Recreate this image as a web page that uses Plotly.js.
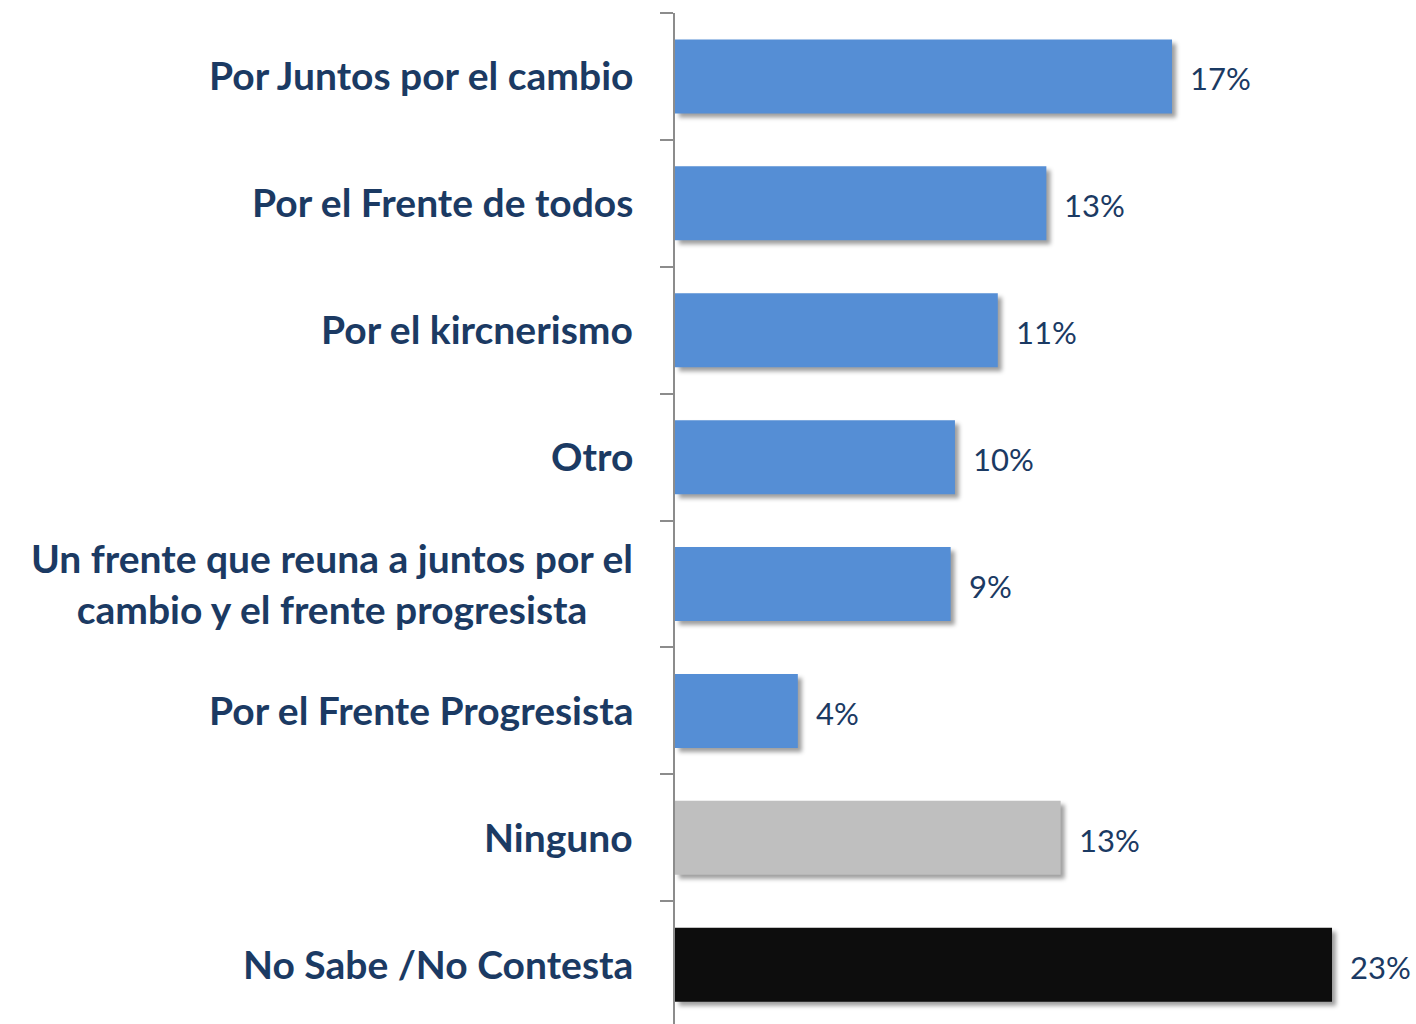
<!DOCTYPE html>
<html>
<head>
<meta charset="utf-8">
<script src="https://cdn.plot.ly/plotly-3.0.1.min.js"></script>
<style>
  html, body { margin: 0; padding: 0; background: #fff; }
  #chart { width: 1416px; height: 1024px; }
  /* soft drop shadow under the bars, like the office chart */
  #chart .bars .point path { filter: drop-shadow(4px 4px 2px rgba(0, 0, 0, 0.38)); }
</style>
</head>
<body>
<div id="chart"></div>
<script>
// categories, top to bottom
let categories = [
    'Por Juntos por el cambio',
    'Por el Frente de todos',
    'Por el kircnerismo',
    'Otro',
    'Un frente que reuna a juntos por el<br>cambio y el frente progresista',
    'Por el Frente Progresista',
    'Ninguno',
    'No Sabe /No Contesta'
];
let values = [17.4, 13.0, 11.3, 9.8, 9.65, 4.3, 13.5, 23.0];
let valueLabels = ['17%', '13%', '11%', '10%', '9%', '4%', '13%', '23%'];
let barColors = ['#558ED5', '#558ED5', '#558ED5', '#558ED5', '#558ED5', '#558ED5', '#BFBFBF', '#0D0D0D'];

let textColor = '#1B3A63';

let trace = {
    type: 'bar',
    orientation: 'h',
    x: values,
    y: categories,
    marker: { color: barColors, line: { width: 0 } },
    hoverinfo: 'none'
};

let annotations = [];
for (let i = 0; i < categories.length; i++) {
    // category label, centred block ending left of the axis
    annotations.push({
        xref: 'paper', yref: 'y',
        x: 0, y: categories[i],
        xanchor: 'right', yanchor: 'middle',
        xshift: -40, yshift: 1,
        align: 'center',
        showarrow: false,
        text: categories[i],
        font: { family: 'Lato', size: 39, weight: 'bold', color: textColor }
    });
    // value label right of the bar
    annotations.push({
        xref: 'x', yref: 'y',
        x: values[i], y: categories[i],
        xanchor: 'left', yanchor: 'middle',
        xshift: 16, yshift: -2,
        showarrow: false,
        text: valueLabels[i],
        font: { family: 'Lato', size: 31, color: textColor }
    });
}

let layout = {
    width: 1416,
    height: 1024,
    margin: { l: 675, r: 0, t: 13, b: 0 },
    paper_bgcolor: '#fff',
    plot_bgcolor: '#fff',
    showlegend: false,
    bargap: 0.417,
    xaxis: {
        range: [0, 25.94],
        visible: false,
        fixedrange: true
    },
    yaxis: {
        type: 'category',
        autorange: false,
        range: [7.467, -0.5],
        showticklabels: false,
        showgrid: false,
        zeroline: false,
        showline: true,
        linecolor: '#8C8C8C',
        linewidth: 2,
        ticks: 'outside',
        tickson: 'boundaries',
        ticklen: 13,
        tickwidth: 2,
        tickcolor: '#8C8C8C',
        fixedrange: true
    },
    annotations: annotations
};

Plotly.newPlot('chart', [trace], layout, { displayModeBar: false, staticPlot: true });
</script>
</body>
</html>
